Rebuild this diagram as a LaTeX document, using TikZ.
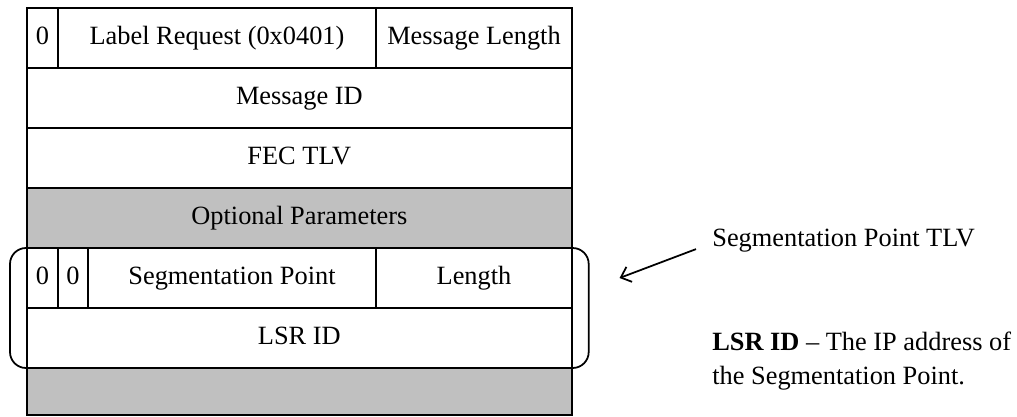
\documentclass[tikz,border=0pt]{standalone}
\usepackage{fontspec}
\setmainfont{Liberation Serif}
\usetikzlibrary{positioning, fit, arrows.meta, calc}
\definecolor{fieldgray}{RGB}{192,192,192}

\begin{document}
\begin{tikzpicture}[
    node distance=0pt,
    % Define styles
    field/.style={rectangle, draw, line width=1pt, outer sep=0pt, inner sep=0pt, minimum height=1.2cm, text height=10.5pt, text depth=3.3pt, font=\fontsize{15}{18}\selectfont},
    wide/.style={field, minimum width=10.906cm},
    shaded/.style={wide, fill=fieldgray},
    bracket/.style={rectangle, draw, line width=1pt, rounded corners=0.32cm, inner xsep=0.334cm, inner ysep=0pt},
    note/.style={align=left, inner sep=0pt, font=\fontsize{15}{19.4}\selectfont},
    arrow/.style={-{Straight Barb[length=1.8mm, width=3.2mm]}, line width=1pt}
]
    \useasboundingbox (0,0) rectangle (20.34,-8.34);

    % --- LABEL REQUEST HEADER ---
    \node (rqzero) [field, minimum width=0.626cm, anchor=north west] at (0.534,-0.16) {0};
    \node (lreq) [field, minimum width=6.36cm, right=of rqzero] {Label Request (0x0401)};
    \node (msglen) [field, minimum width=3.92cm, right=of lreq] {Message Length};

    \node (msgid) [wide, anchor=north west] at (rqzero.south west) {Message ID};
    \node (fectlv) [wide, below=of msgid] {FEC TLV};
    \node (optparam) [shaded, below=of fectlv] {Optional Parameters};

    % --- SEGMENTATION POINT TLV ---
    \node (spzeroa) [field, minimum width=0.626cm, anchor=north west] at (optparam.south west) {0};
    \node (spzerob) [field, minimum width=0.6cm, right=of spzeroa] {0};
    \node (segpt) [field, minimum width=5.76cm, right=of spzerob] {Segmentation Point};
    \node (seglen) [field, minimum width=3.92cm, right=of segpt] {Length};

    \node (lsrid) [wide, anchor=north west] at (spzeroa.south west) {LSR ID};
    \node (rest) [shaded, minimum height=0.94cm, below=of lsrid] {};

    % bracket round the TLV
    \node (tlv) [bracket, fit=(spzeroa)(lsrid)] {};

    % --- NOTES ---
    \node (tlvlabel) [note, anchor=base west] at (14.24,-4.92) {Segmentation Point TLV};
    \node (lsrnote) [note, anchor=north west] at (14.24,-6.63) {\textbf{LSR ID} -- The IP address of\\the Segmentation Point.};

    \coordinate (tlvtip) at ($(tlv.east)+(0.6,0.6)$);
    \draw [arrow] ([shift={(-0.32,-0.18)}]tlvlabel.west) -- (tlvtip);

\end{tikzpicture}
\end{document}
